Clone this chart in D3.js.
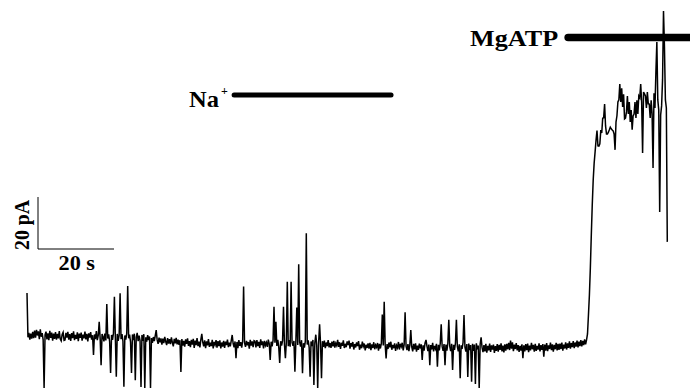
<!DOCTYPE html>
<html><head><meta charset="utf-8">
<script src="https://cdn.jsdelivr.net/npm/d3@7"></script>
<style>html,body{margin:0;padding:0;background:#fff;}svg{display:block;}</style>
</head><body>
<svg id="chart" width="690" height="389"></svg>
<script>
// ---- data ----
const sampleInterval = 0.25; // seconds between samples
// whole-cell current (pA, relative to initial baseline), one value per sample, 10 s per row
const current = [
  16.5, -0.5, 1.2, -1.4, 0.9, -1.0, 1.6, -0.8, 2.1, -0.6, 2.4, 0.2, 1.8, -1.2, 2.6, -0.3, 1.1, -1.5, -20, 0.4,
  1.7, -1.3, 1.0, -1.6, 2.0, -0.7, 1.3, -1.8, 0.9, -1.1, 1.5, -1.4, 0.8, -0.9, 1.9, -1.2, -1.9, 0.6, 1.4, -1.7,
  -1.5, 1.2, -0.6, 1.6, -1.4, 0.7, -1.9, 1.1, -0.8, 1.8, -1.6, 0.4, -1.1, 1.4, -2.0, 0.9, -0.7, 1.3, -1.8, 0.5,
  -0.9, 1.7, -1.3, 0.8, -2.1, 1.0, -0.6, 1.5, -1.4, 0.3, -7.3, 0.6, -1.2, 1.9, -1.6, 0.2, 5.5, -0.9, -11.2, 0.8,
  -0.3, -2.1, 0.9, -1.7, 12.3, -1.0, 0.6, -2.2, -14.2, 0.4, -1.5, 1.1, 15.1, -0.6, -15.7, 0.8, -1.9, 0.3, 16.4, -1.2,
  0.7, -2.0, -19.5, 0.2, -1.4, 1.0, 19.2, -0.9, 0.5, -2.3, -14.2, 0.6, -1.6, 0.9, -17.0, -0.4, 1.2, -2.0, 0.1, -1.8,
  -19.6, 0.4, -1.9, 0.7, -20, -0.5, -2.2, 0.3, -1.6, -0.2, -20, -0.8, -2.6, -0.4, -2.0, 0.1, 2.3, -1.5, -3.0, -0.6,
  -2.4, -0.9, -3.3, -1.0, -2.7, -0.3, -2.1, -3.5, -0.8, -2.9, -1.2, -3.1, -0.5, -2.5, -4.0, -1.1, -2.8, -0.7, -3.2, -1.4,
  -3.4, -1.6, -13.8, -1.2, -3.7, -1.9, -4.1, -1.3, -3.0, -0.9, -3.8, -2.0, -4.3, -1.5, -3.3, -1.1, -4.6, -1.8, -3.5, -0.8,
  -3.9, -2.2, -4.4, -1.4, 0.8, -2.4, -4.0, -1.7, -4.7, -2.1, -3.6, -1.2, -4.2, -2.6, -3.9, -1.5, -4.8, -2.3, -3.4, -1.6,
  -4.5, -2.0, -3.9, -1.7, -4.8, -2.5, -4.1, -1.9, -4.6, -2.2, -3.5, -1.4, -4.3, -2.6, -4.0, -1.8, 0.4, -2.9, -4.4, -2.1,
  -8.5, -2.3, -4.7, -1.6, -3.8, -2.4, -4.5, -2.0, 19.0, -2.7, -4.2, -1.9, -3.6, -2.3, -4.9, -1.5, -3.7, -2.1, -4.3, -1.8,
  -2.0, -4.4, -1.6, -3.9, -2.3, -4.6, -1.3, -3.5, -2.1, -4.8, -1.9, -3.6, -2.5, -4.2, -1.4, -3.0, -9.2, -2.2, -4.0, -1.7,
  11.2, -2.6, 5.5, -3.8, -1.5, -4.3, -10.4, -2.0, -3.7, -1.8, 11.2, -3.2, -8.5, -2.4, 20.9, -3.9, -1.6, -4.1, 20.9, -2.5,
  -3.8, -1.9, -13.7, -2.2, 11.0, -3.5, 27.6, -2.4, -4.1, -1.6, -14.3, -2.8, -4.5, -2.0, 39.5, -3.3, -1.7, -4.4, -15.7, -2.1,
  -3.9, -1.5, -18.8, -2.6, 0.5, -3.6, -20, -2.3, 4.5, -3.1, -16.2, -2.0, -4.2, -1.8, -4.7, -2.5, -3.9, -1.6, -4.4, -2.7,
  -4.6, -2.2, -4.0, -1.9, -4.5, -2.8, -3.7, -1.5, -4.2, -2.4, -5.0, -2.6, -3.8, -1.7, -4.6, -3.0, -4.3, -2.1, -3.5, -1.8,
  -4.9, -2.7, -4.1, -2.3, -5.2, -3.1, -4.4, -2.5, -3.9, -2.0, -5.3, -3.3, -4.7, -2.2, -4.0, -2.9, -5.5, -3.4, -4.6, -2.8,
  -4.9, -2.6, -5.4, -3.2, -4.6, -2.4, -5.1, -3.5, -4.3, -2.7, -5.6, -3.0, -4.8, -2.9, 8.3, -3.6, 13.2, -3.3, -8.6, -3.1,
  -5.0, -2.5, -4.4, -2.2, -5.3, -3.4, -4.7, -2.8, -5.7, -3.6, -4.5, -2.3, -5.2, -3.0, -4.1, -2.6, -5.5, -3.3, 9.1, -3.9,
  -5.4, -3.1, -5.8, -3.5, 2.3, -4.2, -5.9, -3.0, -5.1, -2.8, -6.0, -3.7, -5.3, -2.9, -4.8, -3.2, -9.2, -3.6, -5.6, -2.7,
  -1.5, -3.9, -5.8, -3.3, -11.2, -3.5, -5.2, -2.6, -5.9, -3.8, -4.9, -3.0, -11.8, -3.4, -5.5, -2.9, 4.5, -4.0, -5.7, -3.1,
  -11.2, -3.3, -5.6, -2.8, 6.2, -3.9, -5.8, -3.0, -13.1, -3.4, -5.3, -2.7, 6.2, -4.1, -5.9, -3.2, -16.2, -3.6, -5.0, -2.5,
  8.1, -4.3, -6.0, -3.1, -15.8, -2.9, -5.4, -3.5, -17.6, -3.0, -5.7, -3.3, -18.5, -2.8, -5.1, -3.7, -20, -3.2, -0.5, -4.4,
  -6.2, -3.5, -5.9, -3.0, -6.4, -3.8, -5.5, -2.9, -6.1, -3.6, -5.2, -3.3, -6.5, -3.9, -5.7, -3.1, -6.0, -3.4, -5.3, -2.8,
  -5.9, -3.7, -6.3, -3.2, -5.6, -3.0, -5.1, -2.6, -5.4, -1.8, -4.9, -2.4, -5.8, -3.3, -5.0, -2.7, -5.5, -3.5, -6.1, -3.8,
  -5.6, -3.2, -8.5, -3.6, -5.9, -3.1, -5.4, -2.9, -6.2, -3.7, -5.5, -2.6, -5.1, -3.4, -6.0, -3.0, -5.7, -3.8, -5.2, -2.8,
  -5.9, -3.5, -5.3, -3.1, -8.0, -3.3, -5.6, -2.7, -5.8, -3.6, -5.0, -2.5, -5.4, -3.2, -6.0, -3.4, -5.1, -2.6, -5.5, -3.0,
  -5.3, -2.9, -5.0, -2.5, -5.6, -3.3, -4.8, -2.4, -5.2, -2.8, -4.6, -2.1, -4.9, -2.7, -4.3, -2.0, -4.7, -2.5, -4.1, -1.8,
  -4.4, -2.2, -3.9, -1.6, -4.0, -1.9, -3.5, -1.3, -3.2, -1.5, 0.8, 8.1, 15.8, 26.2, 38.8, 50.4, 60.0, 66.5, 70.8, 75.4,
  79.0, 73.1, 73.0, 73.9, 79.2, 78.1, 83.8, 83.9, 89.2, 80.8, 77.7, 77.7, 78.4, 79.3, 80.3, 79.7, 79.2, 78.9, 77.7, 71.6,
  82.3, 84.7, 90.0, 90.8, 96.9, 90.0, 95.3, 88.1, 93.0, 83.5, 83.8, 86.2, 92.3, 85.4, 90.0, 82.3, 86.9, 79.3, 84.6, 85.4,
  90.0, 83.9, 90.7, 85.4, 92.3, 91.6, 96.9, 90.0, 70.4, 93.8, 93.1, 92.3, 87.7, 93.8, 89.3, 89.2, 83.9, 90.7, 85.4, 64.6,
  93.4, 87.7, 101.5, 113.1, 90.8, 86.9, 47.7, 85.0, 88.5, 98.5, 125.0, 111.2, 90.8, 87.7, 36.2
];
// solution application bars (seconds)
const applications = [
  { label: "Na", sup: "+", start: 54.5, end: 95.8 },
  { label: "MgATP", sup: "", start: 142.4, end: 185 }
];
const scaleBarTime = 20;     // s
const scaleBarCurrent = 20;  // pA
const scaleBarLabels = ["20 s", "20 pA"];

// ---- layout ----
const svg = d3.select("#chart");
const x = d3.scaleLinear().domain([0, 20]).range([27, 103]);
const y = d3.scaleLinear().domain([0, 20]).range([336, 284]);
const font = "'Liberation Serif','Times New Roman',serif";

// trace
const line = d3.line()
  .x((d, i) => x(i * sampleInterval))
  .y(d => y(d));
svg.append("path")
  .datum(current)
  .attr("d", line)
  .attr("fill", "none")
  .attr("stroke", "#000")
  .attr("stroke-width", 1.5)
  .attr("stroke-linejoin", "miter");

// application bars
const barY = [95, 37.5];
const barW = [5, 7.5];
applications.forEach((a, i) => {
  svg.append("line")
    .attr("x1", x(a.start)).attr("x2", x(a.end))
    .attr("y1", barY[i]).attr("y2", barY[i])
    .attr("stroke", "#000").attr("stroke-width", barW[i])
    .attr("stroke-linecap", "round");
});
function label(txt, xx, yy, size, len) {
  const t = svg.append("text")
    .attr("x", xx).attr("y", yy)
    .attr("font-family", font).attr("font-weight", "bold").attr("font-size", size)
    .text(txt);
  if (len) t.attr("textLength", len).attr("lengthAdjust", "spacingAndGlyphs");
  return t;
}
const na = applications[0], mg = applications[1];
label(na.label, x(na.start) - 45, 106.5, 23, 30);
label(na.sup, x(na.start) - 13, 94.5, 12);
label(mg.label, x(mg.start) - 98, 46, 23, 88);

// scale bar
const sbX = 38, sbY = 249;
const sbW = x(scaleBarTime) - x(0);
const sbH = y(0) - y(scaleBarCurrent);
svg.append("path")
  .attr("d", `M${sbX},${sbY - sbH}V${sbY}H${sbX + sbW}`)
  .attr("fill", "none").attr("stroke", "#000").attr("stroke-width", 1);
label(scaleBarLabels[0], 58.5, 270, 20, 36.5).style("white-space", "pre");
svg.append("text")
  .attr("transform", `translate(29,250) rotate(-90)`)
  .attr("font-family", font).attr("font-weight", "bold").attr("font-size", 20)
  .attr("textLength", 50).attr("lengthAdjust", "spacingAndGlyphs")
  .text(scaleBarLabels[1]);
</script>
</body></html>
